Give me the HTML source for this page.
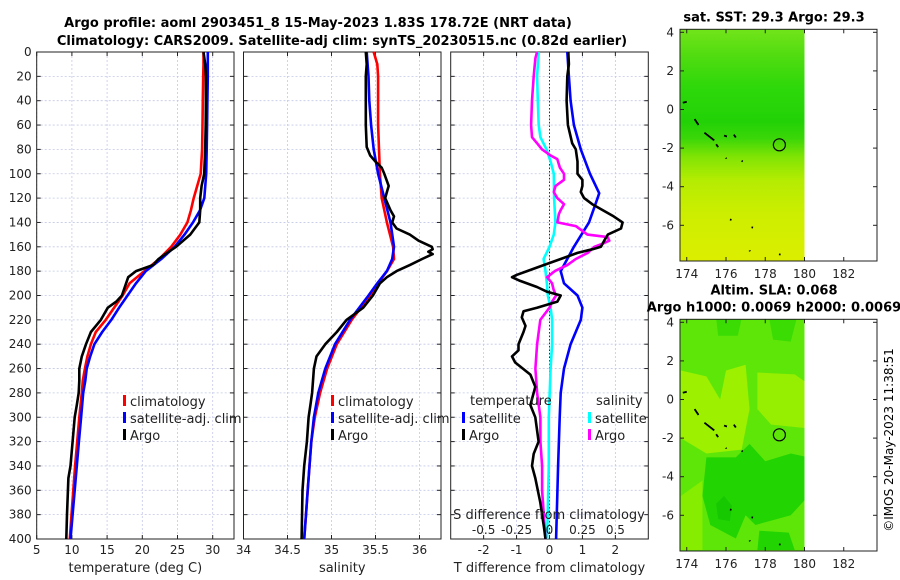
<!DOCTYPE html>
<html><head><meta charset="utf-8"><style>
body{margin:0;background:#fff}
svg{display:block;font-family:"DejaVu Sans","Liberation Sans",sans-serif}
</style></head><body>
<svg id="fig" width="900" height="580" viewBox="0 0 900 580" xmlns="http://www.w3.org/2000/svg">
<rect width="900" height="580" fill="#fff"/>
<text x="318" y="27" text-anchor="middle" font-size="13" font-weight="bold">Argo profile: aoml 2903451_8 15-May-2023 1.83S 178.72E (NRT data)</text>
<text x="342" y="45" text-anchor="middle" font-size="13" font-weight="bold">Climatology: CARS2009. Satellite-adj clim: synTS_20230515.nc (0.82d earlier)</text>
<g id="g1"></g>
<g id="g2"></g>
<g id="g3"></g>
<g id="m1"></g>
<g id="m2"></g>
<text transform="translate(893,440) rotate(-90)" text-anchor="middle" font-size="12">©IMOS 20-May-2023 11:38:51</text>
</svg>
<script>
const tDepth=[0,10,20,40,60,80,100,120,130,140,150,160,170,180,190,200,210,220,230,240,250,260,270,280,300,320,340,360,380,400];
const tClim=[28.7,28.7,28.65,28.6,28.55,28.5,28.3,27.3,26.9,26.4,25.4,24.1,22.4,20.3,18.2,17.2,16.0,14.8,13.4,12.7,12.2,11.85,11.55,11.4,11.05,10.75,10.45,10.2,9.95,9.7];
const tSat=[29.3,29.3,29.3,29.25,29.2,29.15,29.08,28.8,28.2,27.2,26.0,24.6,22.7,20.5,19.1,17.9,16.7,15.6,14.3,13.2,12.6,12.1,11.9,11.6,11.3,11.0,10.7,10.4,10.1,9.8];
const argoTDepth=[0,10,20,40,60,80,100,110,120,130,140,150,160,165,170,175,180,185,190,200,205,210,220,230,240,250,260,270,280,290,300,320,340,350,380,400];
const argoT=[28.7,28.93,29.03,29.03,29.0,28.93,28.79,28.42,28.22,28.22,28.1,26.8,24.8,23.5,22.3,21.5,19.1,18.0,17.7,17.1,16.3,15.1,14.1,12.7,12.0,11.4,11.05,11.05,10.97,10.7,10.4,10.1,9.8,9.5,9.3,9.2];
const sDepth=[0,10,20,40,60,80,100,120,140,160,170,180,190,200,220,240,260,280,300,320,340,360,380,400];
const sClim=[35.48,35.52,35.53,35.53,35.53,35.54,35.55,35.57,35.63,35.70,35.71,35.63,35.53,35.44,35.23,35.06,34.95,34.87,34.81,34.77,34.75,34.73,34.71,34.69];
const sSat=[35.40,35.41,35.42,35.43,35.45,35.48,35.53,35.60,35.67,35.71,35.69,35.63,35.52,35.42,35.21,35.04,34.93,34.85,34.80,34.77,34.75,34.73,34.71,34.69];
const argoSDepth=[0,10,20,40,60,78,85,90,95,100,110,115,120,130,135,140,145,150,155,160,162,164,166,170,175,180,185,190,200,210,220,230,240,250,260,280,290,300,320,340,360,400];
const argoS=[35.39,35.40,35.39,35.39,35.39,35.40,35.44,35.50,35.57,35.60,35.65,35.63,35.61,35.67,35.71,35.69,35.74,35.89,35.99,36.14,36.15,36.10,36.15,36.03,35.89,35.74,35.63,35.55,35.47,35.36,35.17,35.06,34.93,34.83,34.80,34.78,34.76,34.74,34.72,34.69,34.67,34.66];
const dTSatDepth=[0,20,40,60,80,100,116,120,140,160,180,190,200,210,220,240,260,280,300,340,400];
const dTSat=[0.54,0.59,0.64,0.74,0.95,1.23,1.51,1.46,1.2,0.74,0.34,0.44,0.85,1.0,0.95,0.64,0.44,0.34,0.31,0.26,0.20];
const dTArgoDepth=[0,10,20,40,60,75,80,90,100,105,110,115,120,125,135,140,145,150,155,160,162,165,170,175,180,183,185,188,193,197,200,205,210,213,218,225,230,240,245,250,255,265,275,285,290,300,320,330,340,350,370,390,400];
const dTArgo=[0.57,0.59,0.54,0.52,0.56,0.69,0.80,0.85,0.85,1.0,1.0,0.95,1.05,1.3,1.95,2.22,2.17,1.77,1.66,1.56,1.31,0.85,0.34,-0.18,-0.68,-0.99,-1.14,-0.89,-0.38,-0.07,0.34,0.24,-0.38,-0.79,-0.84,-0.73,-0.79,-0.94,-0.94,-1.14,-1.04,-0.58,-0.43,-0.53,-0.58,-0.43,-0.33,-0.48,-0.53,-0.43,-0.28,-0.17,-0.12];
const dSSatDepth=[0,20,40,60,70,80,90,100,120,140,150,160,170,180,190,200,210,220,240,260,300,340,400];
const dSSat=[-0.082,-0.094,-0.089,-0.082,-0.069,-0.023,0.008,0.033,0.035,0.045,0.033,0.0,-0.045,-0.03,-0.02,-0.013,0.008,0.02,0.020,0.008,-0.005,-0.005,-0.018];
const dSArgoDepth=[0,5,20,40,60,70,75,80,85,88,95,100,105,110,115,120,125,130,133,140,143,150,152,155,158,160,165,170,175,180,185,190,195,200,205,210,220,240,260,280,300,320,340,360,380,400];
const dSArgo=[-0.094,-0.107,-0.12,-0.133,-0.14,-0.133,-0.094,-0.056,0.008,0.059,0.079,0.11,0.110,0.046,0.033,0.059,0.110,0.084,0.071,0.06,0.2,0.288,0.441,0.454,0.390,0.34,0.29,0.2,0.135,0.04,-0.018,0.02,0.03,0.05,0.02,0.0,-0.07,-0.094,-0.107,-0.094,-0.069,-0.069,-0.056,-0.056,-0.043,-0.031];
const depthTicks=[0,20,40,60,80,100,120,140,160,180,200,220,240,260,280,300,320,340,360,380,400];
const tTicks=[5,10,15,20,25,30];
const sTicks=[34,34.5,35,35.5,36];
const dTTicks=[-2,-1,0,1,2];
const dSTicks=[-0.5,-0.25,0,0.25,0.5];
const lonTicks=[174,176,178,180,182];
const latTicks=[4,2,0,-2,-4,-6];

const NS='http://www.w3.org/2000/svg';
function mk(tag,attrs,parent,txt){const e=document.createElementNS(NS,tag);for(const k in attrs)e.setAttribute(k,attrs[k]);if(txt!==undefined)e.textContent=txt;parent.appendChild(e);return e;}
const Y0=52,Y1=539;
const yD=d=>Y0+(d/400)*(Y1-Y0);
function lin(d0,d1,p0,p1){return v=>p0+(v-d0)/(d1-d0)*(p1-p0);}

function panel(g,x0,x1,xs,ticks,fmt,ylabels,xlabel){
  for(const d of depthTicks){const y=yD(d);
    const gl=mk('line',{x1:x0,x2:x1,y1:y,y2:y,stroke:'#c3c8e6','stroke-width':0.8,'stroke-dasharray':'2,2'},g);
    
    mk('line',{x1:x0,x2:x0+4,y1:y,y2:y,stroke:'#222'},g);mk('line',{x1:x1-4,x2:x1,y1:y,y2:y,stroke:'#222'},g);
    if(ylabels){const t=mk('text',{x:x0-5,y:y+4,'text-anchor':'end','font-size':12,fill:'#222'},g,d);
      }
  }
  for(const v of ticks){const x=xs(v);
    const gl=mk('line',{x1:x,x2:x,y1:Y0,y2:Y1,stroke:'#c3c8e6','stroke-width':0.8,'stroke-dasharray':'2,2'},g);
    
    mk('line',{x1:x,x2:x,y1:Y0,y2:Y0+4,stroke:'#222'},g);mk('line',{x1:x,x2:x,y1:Y1-4,y2:Y1,stroke:'#222'},g);
    const t=mk('text',{x:x,y:554,'text-anchor':'middle','font-size':12,fill:'#222'},g,fmt(v));
    
  }
  const fr=mk('rect',{x:x0,y:Y0,width:x1-x0,height:Y1-Y0,fill:'none',stroke:'#222','stroke-width':1},g);
  
  const xl=mk('text',{x:(x0+x1)/2,y:572,'text-anchor':'middle','font-size':13,fill:'#222'},g,xlabel);
  
}
function line(g,xs,vals,depths,color,name,w){
  const pts=vals.map((v,i)=>xs(v).toFixed(1)+','+yD(depths[i]).toFixed(1)).join(' ');
  const p=mk('polyline',{points:pts,fill:'none',stroke:color,'stroke-width':w||2.6,'stroke-linejoin':'round'},g);
  
}
function legend(g,x,y,color,label,name){
  const b=mk('rect',{x:x,y:y-6,width:3,height:11,fill:color},g);
  
  const t=mk('text',{x:x+7,y:y+5,'font-size':13,fill:'#222'},g,label);
  
}
// Panel 1
const g1=document.getElementById('g1');
const xT=lin(5,30,36.7,212.7);
panel(g1,36.7,234,xT,tTicks,v=>v,true,'temperature (deg C)');
line(g1,xT,tClim,tDepth,'#f00','clim-temperature-line');
line(g1,xT,tSat,tDepth,'#00f','satellite-temperature-line');
line(g1,xT,argoT,argoTDepth,'#000','argo-temperature-line');
legend(g1,123,401,'#f00','climatology','legend-climatology');
legend(g1,123,418,'#00f','satellite-adj. clim','legend-satellite');
legend(g1,123,435,'#000','Argo','legend-argo');
// Panel 2
const g2=document.getElementById('g2');
const xS=lin(34,36,243.5,419.5);
panel(g2,243.5,441,xS,sTicks,v=>v,false,'salinity');
line(g2,xS,sClim,sDepth,'#f00','clim-salinity-line');
line(g2,xS,sSat,sDepth,'#00f','satellite-salinity-line');
line(g2,xS,argoS,argoSDepth,'#000','argo-salinity-line');
legend(g2,331,401,'#f00','climatology','legend-climatology-s');
legend(g2,331,418,'#00f','satellite-adj. clim','legend-satellite-s');
legend(g2,331,435,'#000','Argo','legend-argo-s');
// Panel 3
const g3=document.getElementById('g3');
const xDT=lin(-3,3,450.7,648.3);
const xDS=v=>xDT(v*4);
panel(g3,450.7,648.3,xDT,dTTicks,v=>v,false,'T difference from climatology');
const zl=mk('line',{x1:xDT(0),x2:xDT(0),y1:Y0,y2:Y1,stroke:'#333','stroke-width':1,'stroke-dasharray':'1.5,2'},g3);

line(g3,xDT,dTSat,dTSatDepth,'#00f','satellite-t-diff-line');
line(g3,xDS,dSSat,dSSatDepth,'#0ff','satellite-s-diff-line');
line(g3,xDS,dSArgo,dSArgoDepth,'#f0f','argo-s-diff-line');
line(g3,xDT,dTArgo,dTArgoDepth,'#000','argo-t-diff-line');
let t=mk('text',{x:470,y:405,'font-size':13,fill:'#222'},g3,'temperature');

t=mk('text',{x:596,y:405,'font-size':13,fill:'#222'},g3,'salinity');

legend(g3,462,418,'#00f','satellite','legend-t-satellite');
legend(g3,462,435,'#000','Argo','legend-t-argo');
legend(g3,588,418,'#0ff','satellite','legend-s-satellite');
legend(g3,588,435,'#f0f','Argo','legend-s-argo');
t=mk('text',{x:549,y:519,'text-anchor':'middle','font-size':13,fill:'#222'},g3,'S difference from climatology');

for(const v of dSTicks){const l=mk('text',{x:xDS(v),y:534,'text-anchor':'middle','font-size':12,fill:'#222'},g3,v);
  }

// Maps
const lonX=lin(176,180,726,804.5);
const islands=[[[173.8,0.35],[174.0,0.4]],[[174.4,-0.5],[174.6,-0.8]],[[174.9,-1.2],[175.4,-1.6]],[[175.5,-1.8],[175.6,-1.95]],[[175.9,-1.35],[176.05,-1.4]],[[176.4,-1.3],[176.5,-1.45]],[[176.0,-2.5],[176.02,-2.55]],[[176.8,-2.65],[176.85,-2.7]],[[176.2,-5.7],[176.28,-5.72]],[[177.3,-6.1],[177.38,-6.12]],[[177.2,-7.3],[177.22,-7.35]],[[178.7,-7.5],[178.78,-7.52]]];
function map(id,top,bottom,lat4y,latm6y,title,draw){
  const g=document.getElementById(id);
  const latY=lin(4,-6,lat4y,latm6y);
  const x0=680,x1=877;
  const clip=mk('clipPath',{id:id+'c'},g);mk('rect',{x:x0,y:top,width:lonX(180)-x0,height:bottom-top},clip);
  const cg=mk('g',{'clip-path':'url(#'+id+'c)'},g);
  draw(cg,latY,x0,top,bottom);
  for(const s of islands){const p=mk('polyline',{points:s.map(q=>lonX(q[0])+','+latY(q[1])).join(' '),fill:'none',stroke:'#000','stroke-width':1.8},cg);
    }
  const c=mk('circle',{cx:lonX(178.72),cy:latY(-1.83),r:6,fill:'none',stroke:'#000','stroke-width':1.2},g);
  
  const fr=mk('rect',{x:x0,y:top,width:x1-x0,height:bottom-top,fill:'none',stroke:'#222'},g);
  
  for(const v of lonTicks){const x=lonX(v);mk('line',{x1:x,x2:x,y1:bottom,y2:bottom-4,stroke:'#222'},g);mk('line',{x1:x,x2:x,y1:top,y2:top+4,stroke:'#222'},g);
    const l=mk('text',{x:x,y:bottom+17,'text-anchor':'middle','font-size':12,fill:'#222'},g,v);
    }
  for(const v of latTicks){const y=latY(v);mk('line',{x1:x0,x2:x0+4,y1:y,y2:y,stroke:'#222'},g);mk('line',{x1:x1-4,x2:x1,y1:y,y2:y,stroke:'#222'},g);
    const l=mk('text',{x:x0-6,y:y+4,'text-anchor':'end','font-size':12,fill:'#222'},g,v);
    }
  title.forEach((s,i)=>{const l=mk('text',{x:774,y:top-8-(title.length-1-i)*17,'text-anchor':'middle','font-size':13,'font-weight':'bold'},g,s);
    });
}
map('m1',29.3,261,32.3,225.3,['sat. SST: 29.3 Argo: 29.3'],(cg,latY,x0,top,bottom)=>{
  const defs=mk('defs',{},cg);
  const lg=mk('linearGradient',{id:'sstg',x1:0,y1:0,x2:0,y2:1},defs);
  [[0,'#72e41a'],[0.12,'#4fdc10'],[0.25,'#2ed80a'],[0.4,'#22d206'],[0.47,'#3ad608'],[0.55,'#80e404'],[0.65,'#b4ec02'],[0.8,'#cdee00'],[1,'#dcee00']].forEach(s=>mk('stop',{offset:s[0],'stop-color':s[1]},lg));
  const r=mk('rect',{x:x0,y:top,width:130,height:bottom-top,fill:'url(#sstg)'},cg);
  
});
map('m2',319.3,551,322.3,515.3,['Altim. SLA: 0.068','Argo h1000: 0.0069 h2000: 0.0069'],(cg,latY,x0,top,bottom)=>{
  const r=mk('rect',{x:x0,y:top,width:130,height:bottom-top,fill:'#5ee608'},cg);
  
  const P=(pts,col,n)=>{const p=mk('polygon',{points:pts.map(q=>lonX(q[0])+','+latY(q[1])).join(' '),fill:col},cg);};
  P([[173.7,1.5],[175,1.2],[175.7,0],[176,1.5],[177,1.8],[177.2,-0.5],[176.8,-2.6],[175,-2.8],[173.7,-2],],'#9cf000','sla-high-west');
  P([[177.6,1.4],[179.5,1.3],[180.2,0.8],[180.2,-1.5],[178.3,-1.3],[177.6,-0.5]],'#96ee00','sla-high-east');
  P([[175,-3],[176.5,-3],[177.2,-2.3],[178,-3.2],[179.3,-2.8],[180.2,-3],[180.2,-5],[179.3,-6],[177.5,-6.5],[177,-6],[176.5,-7.2],[175.2,-6.5],[174.8,-5]],'#22d402','sla-low-south');
  P([[175.9,-5],[176.3,-5.5],[176.2,-6.3],[175.6,-6.2],[175.5,-5.4]],'#16c800','sla-low-core');
  P([[177.7,-6.8],[179.2,-6.9],[179.5,-7.8],[177.6,-7.8]],'#22d402','sla-low-bottom');
  P([[175.5,4.2],[176.8,4.2],[176.6,3.3],[175.6,3.3]],'#3adc04','sla-low-north1');
  P([[178.2,4.2],[179.6,4.2],[179.3,3],[178.4,3.1]],'#3adc04','sla-low-north2');
  P([[173.7,-5],[174.8,-4.2],[174.8,-7.8],[173.7,-7.8]],'#86ec00','sla-high-southwest');
});
</script>
</body></html>
